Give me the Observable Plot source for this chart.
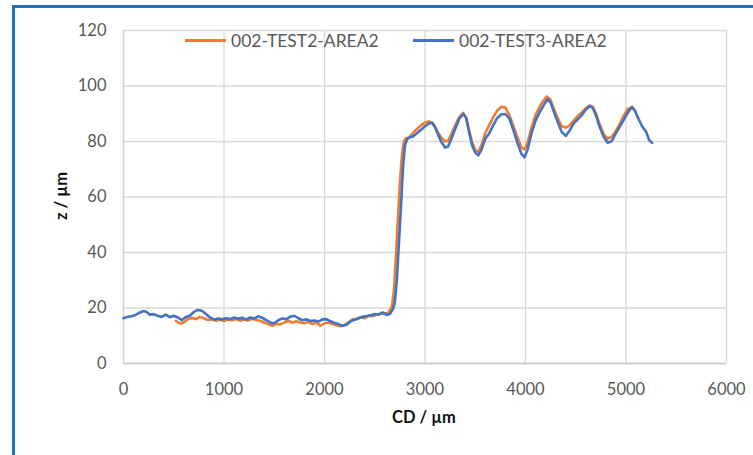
<!DOCTYPE html>
<html>
<head>
<meta charset="utf-8">
<script src="https://cdn.jsdelivr.net/npm/d3@7"></script>
<script src="https://cdn.jsdelivr.net/npm/@observablehq/plot@0.6"></script>
<style>
  html, body { margin: 0; padding: 0; background: #fff; }
  #wrap { position: relative; width: 753px; height: 455px; overflow: hidden; font-family: Lato, "Open Sans", sans-serif; }
  #chart { position: absolute; left: 0; top: 0; }
  #frame { position: absolute; left: 12px; top: 5px; width: 760px; height: 470px; border-left: 3.5px solid #1a72c6; border-top: 3.5px solid #1a72c6; box-sizing: border-box; pointer-events: none; }
  #legend { position: absolute; top: 29px; left: 185px; font-size: 17.5px; color: #595959; white-space: nowrap; }
  .item { position: absolute; top: 0; display: flex; align-items: center; height: 22px; }
  .swatch { display: inline-block; width: 41px; height: 3px; margin-right: 5px; }
  .title { position: absolute; font-weight: bold; color: #111; font-size: 16.5px; white-space: nowrap; line-height: 1; }
  #xtitle { left: 424px; top: 409px; transform: translateX(-50%); }
  #ytitle { left: 61px; top: 196px; transform: translate(-50%, -50%) rotate(-90deg); }
  svg text { font-family: Lato, "Open Sans", sans-serif; }
</style>
</head>
<body>
<div id="wrap">
  <div id="chart"></div>
  <div id="frame"></div>
  <div id="legend"></div>
  <div class="title" id="xtitle"></div>
  <div class="title" id="ytitle"></div>
</div>
<script>
const seriesNames = ["002-TEST2-AREA2", "002-TEST3-AREA2"];
const seriesColors = ["#ED7D31", "#4472C4"];
const xTitle = "CD / µm";
const yTitle = "z / µm";
const xTicks = [0, 1000, 2000, 3000, 4000, 5000, 6000];
const yTicks = [0, 20, 40, 60, 80, 100, 120];

// 002-TEST2-AREA2 (orange)
const test2X = [520,560,600,640,680,720,760,800,840,880,920,960,1000,1040,1080,1120,1160,1200,1240,1280,1320,1360,1400,1440,1480,1520,1560,1600,1640,1680,1720,1760,1800,1840,1880,1920,1960,2000,2040,2080,2120,2160,2200,2240,2280,2320,2360,2400,2440,2480,2520,2560,2600,2640,2670,2690,2710,2730,2750,2770,2790,2810,2840,2880,2920,2960,3000,3040,3080,3120,3160,3200,3230,3260,3300,3340,3380,3410,3440,3470,3500,3530,3560,3600,3640,3680,3720,3760,3800,3840,3880,3920,3960,3990,4020,4060,4100,4140,4180,4210,4250,4280,4320,4360,4400,4440,4480,4520,4560,4600,4640,4670,4700,4740,4780,4820,4860,4900,4940,4980,5020,5060,5090];
const test2Z = [15.4,14.4,14.8,16.0,16.4,16.0,16.8,16.3,15.7,15.9,15.4,15.8,15.3,15.9,15.6,16.0,15.4,15.9,15.5,16.1,15.7,15.4,14.8,14.2,13.6,14.3,14.1,14.8,15.4,14.7,15.2,14.8,14.5,15.0,14.2,14.7,13.6,14.5,14.8,14.2,13.8,13.4,13.9,14.8,15.9,16.1,16.7,16.3,17.2,17.0,17.6,18.0,17.8,18.5,20.5,26,38,52,65,75,80,81.2,81.5,83,84.5,85.8,86.8,87.3,86.3,83.8,81.5,80,80.3,82.5,85.8,88.8,90.3,88.5,84,79.5,77,76.2,78.5,83,86,88.8,91.2,92.5,92.2,89.5,85.5,81.5,77.8,77.2,79.5,85,89.5,92.5,94.8,96.2,95,92,88.5,85.5,85,85.8,87.5,89.2,90.5,92,93,92.5,90.2,86,82.5,81,81.8,83.8,86.5,89.5,91.8,92.2,91];

// 002-TEST3-AREA2 (blue)
const test3X = [0,40,80,120,160,200,230,260,300,340,380,420,460,500,540,580,620,660,700,740,780,820,860,900,940,980,1020,1060,1100,1140,1180,1220,1260,1300,1340,1380,1420,1460,1500,1540,1580,1620,1660,1700,1740,1780,1820,1860,1900,1940,1980,2020,2060,2100,2140,2180,2220,2260,2300,2340,2380,2420,2460,2500,2540,2580,2620,2650,2680,2700,2720,2740,2760,2780,2800,2820,2850,2880,2920,2960,3000,3040,3070,3100,3130,3160,3200,3230,3260,3300,3340,3380,3410,3440,3470,3500,3530,3560,3600,3640,3680,3720,3760,3800,3840,3880,3920,3960,3990,4020,4060,4100,4140,4180,4220,4250,4280,4320,4360,4400,4440,4480,4520,4560,4600,4640,4670,4700,4740,4780,4820,4860,4900,4940,4980,5020,5060,5090,5120,5160,5200,5230,5260];
const test3Z = [16.3,16.8,17.0,17.5,18.3,18.9,18.6,17.6,17.8,17.2,16.8,17.6,16.7,17.2,16.6,15.6,16.8,17.2,18.6,19.3,19.0,17.8,16.6,15.8,16.2,15.9,16.3,16.0,16.6,16.1,16.5,15.8,16.6,16.2,17.0,16.5,15.6,14.8,14.5,15.6,16.2,16.0,16.9,17.2,16.3,15.6,15.9,15.3,15.5,15.1,15.9,16.0,15.2,14.6,14.2,13.6,14.0,15.2,15.8,16.3,16.9,17.1,17.4,17.8,17.6,18.4,17.5,17.8,19.5,22,30,43,56,70,78.5,80.8,81.5,81.8,83,84.2,85.5,86.5,86.8,85.3,82.5,80,77.8,78.2,80.8,84.5,88,90,88.5,83,78.5,76,75,76.8,81,83,86,88.5,89.8,89.9,88.2,84,79.5,75.5,74.3,77,83,87.5,90.5,93,95.3,94,91,87,83.5,82,84,86.5,88,89.5,91.5,92.8,92,89.5,85,81.5,79.5,80.2,83,85.5,88,90.5,92.5,91,88.5,85.5,83.5,80.5,79.5];

const data = [
  ...test2X.map((x, i) => ({series: seriesNames[0], x, z: test2Z[i]})),
  ...test3X.map((x, i) => ({series: seriesNames[1], x, z: test3Z[i]}))
];

const chart = Plot.plot({
  width: 753,
  height: 455,
  marginLeft: 123,
  marginRight: 27,
  marginTop: 30,
  marginBottom: 92,
  style: {fontSize: "16.5px", color: "#595959", background: "transparent"},
  x: {domain: [0, 6000], label: null},
  y: {domain: [0, 120], label: null},
  color: {domain: seriesNames, range: seriesColors},
  marks: [
    Plot.gridX(xTicks, {stroke: "#d9d9d9", strokeOpacity: 1, strokeWidth: 1.3}),
    Plot.gridY(yTicks, {stroke: "#d9d9d9", strokeOpacity: 1, strokeWidth: 1.3}),
    Plot.ruleY([0], {stroke: "#c8c8c8", strokeWidth: 1.3}),
    Plot.ruleX([0], {stroke: "#d0d0d0", strokeWidth: 1.3}),
    Plot.axisX(xTicks, {tickSize: 0, tickPadding: 20, fill: "#595959", tickFormat: d => String(d), label: null}),
    Plot.axisY(yTicks, {tickSize: 0, tickPadding: 17, fill: "#595959", tickFormat: d => String(d), label: null}),
    Plot.line(data, {x: "x", y: "z", z: "series", stroke: "series", strokeWidth: 2.6, strokeLinejoin: "round", strokeLinecap: "round"})
  ]
});
document.getElementById("chart").appendChild(chart);

document.getElementById("xtitle").textContent = xTitle;
document.getElementById("ytitle").textContent = yTitle;

const legend = document.getElementById("legend");
const offsets = [0, 228];
seriesNames.forEach((name, i) => {
  const item = document.createElement("div");
  item.className = "item";
  item.style.left = offsets[i] + "px";
  const sw = document.createElement("span");
  sw.className = "swatch";
  sw.style.background = seriesColors[i];
  item.appendChild(sw);
  item.appendChild(document.createTextNode(name));
  legend.appendChild(item);
});
</script>
</body>
</html>
